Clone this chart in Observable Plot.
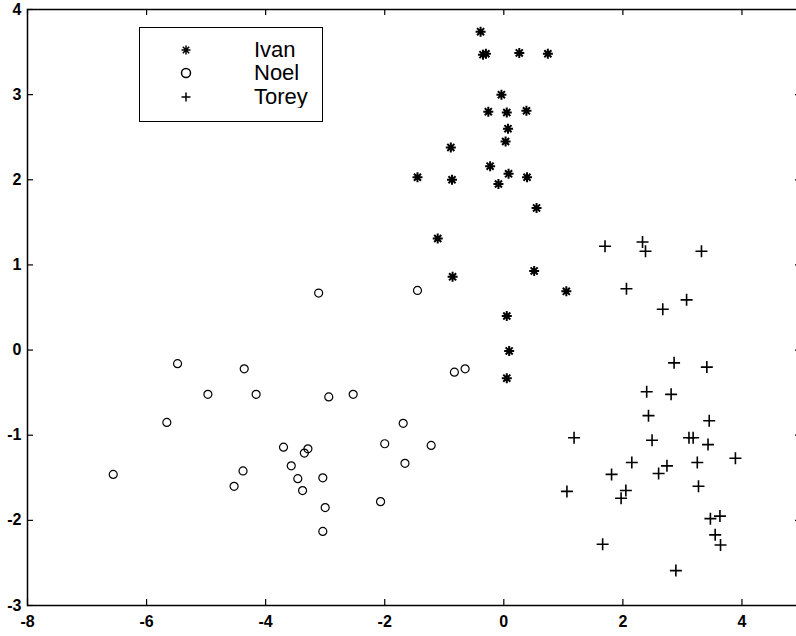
<!DOCTYPE html>
<html>
<head>
<meta charset="utf-8">
<script src="https://cdn.jsdelivr.net/npm/d3@7"></script>
<script src="https://cdn.jsdelivr.net/npm/@observablehq/plot@0.6"></script>
<style>
  html, body { margin: 0; padding: 0; background: #fff; overflow: hidden; }
  #wrap { position: relative; width: 796px; height: 636px; }
  #legend {
    position: absolute; left: 139px; top: 27px; width: 184px; height: 95px;
    box-sizing: border-box; border: 1.5px solid #000; background: #fff;
    padding: 9.75px 0 0 38px;
  }
  .lg-swatches { font-family: "Liberation Sans", Arial, Helvetica, sans-serif; font-size: 22px; margin: 0; color: #000; }
  .lg-swatch { height: 23.5px; padding-bottom: 0 !important; }
  .lg-swatch > svg { margin-right: 60px !important; }
  .lg-swatch-label { line-height: 23.5px; }
</style>
</head>
<body>
<div id="wrap"></div>
<script>
// ---- data ----
const seriesNames = ["Ivan", "Noel", "Torey"];

const ivanX = [-0.39, -0.35, -0.30, 0.26, 0.74, -0.04, -0.26, 0.05, 0.38, 0.07, 0.03, -0.89, -0.23,
               -1.45, -0.87, 0.08, -0.09, 0.39, 0.55, -1.11, 0.51, -0.86, 1.05, 0.05, 0.09, 0.05];
const ivanY = [3.74, 3.47, 3.48, 3.49, 3.48, 3.00, 2.80, 2.79, 2.81, 2.60, 2.45, 2.38, 2.16,
               2.03, 2.00, 2.07, 1.95, 2.03, 1.67, 1.31, 0.93, 0.86, 0.69, 0.40, -0.01, -0.33];

const noelX = [-3.11, -5.48, -4.36, -4.97, -4.16, -2.94, -2.53, -5.66, -3.70, -3.29, -3.35, -2.00, -6.56, -4.38,
               -3.57, -3.46, -3.04, -4.53, -3.38, -2.07, -3.00, -3.04, -1.45, -0.83, -0.65, -1.69, -1.22, -1.66];
const noelY = [0.67, -0.16, -0.22, -0.52, -0.52, -0.55, -0.52, -0.85, -1.14, -1.16, -1.21, -1.10, -1.46, -1.42,
               -1.36, -1.51, -1.50, -1.60, -1.65, -1.78, -1.85, -2.13, 0.70, -0.26, -0.22, -0.86, -1.12, -1.33];

const toreyX = [1.70, 2.33, 2.38, 3.32, 2.06, 3.07, 2.67, 2.86, 3.41, 2.40, 2.81, 2.43, 3.45, 1.18, 2.49, 3.11, 3.18,
                3.43, 3.89, 2.15, 3.25, 1.81, 2.60, 2.74, 1.06, 2.05, 1.97, 3.27, 3.47, 3.63, 3.55, 3.64, 1.66, 2.89];
const toreyY = [1.22, 1.27, 1.16, 1.16, 0.72, 0.59, 0.48, -0.15, -0.20, -0.49, -0.52, -0.77, -0.83, -1.03, -1.06, -1.03, -1.03,
                -1.11, -1.27, -1.32, -1.32, -1.46, -1.45, -1.36, -1.66, -1.65, -1.74, -1.60, -1.98, -1.95, -2.17, -2.29, -2.28, -2.59];

const xTicks = [-8, -6, -4, -2, 0, 2, 4];
const yTicks = [-3, -2, -1, 0, 1, 2, 3, 4];

// ---- MATLAB-like marker shapes ----
const asterisk8 = {
  draw(ctx, size) {
    const r = Math.sqrt(size / Math.PI), d = r * Math.SQRT1_2;
    ctx.moveTo(-r, 0); ctx.lineTo(r, 0);
    ctx.moveTo(0, -r); ctx.lineTo(0, r);
    ctx.moveTo(-d, -d); ctx.lineTo(d, d);
    ctx.moveTo(-d, d); ctx.lineTo(d, -d);
  }
};
const ringSym = {
  draw(ctx, size) {
    const r = Math.sqrt(size / Math.PI);
    ctx.moveTo(r, 0); ctx.arc(0, 0, r, 0, 2 * Math.PI);
  }
};
const plusSym = {
  draw(ctx, size) {
    const r = Math.sqrt(size / Math.PI);
    ctx.moveTo(-r, 0); ctx.lineTo(r, 0);
    ctx.moveTo(0, -r); ctx.lineTo(0, r);
  }
};

// ---- layout ----
const W = 796, H = 636;
const mL = 27, mR = -5, mT = 9, mB = 31;
const plotW = W - mL - mR, plotH = H - mT - mB;
const tickLen = 6;

const idx = (a) => a.map((_, i) => i);

const chart = Plot.plot({
  width: W, height: H,
  marginLeft: mL, marginRight: mR, marginTop: mT, marginBottom: mB,
  x: {domain: [-8, 5], label: null},
  y: {domain: [-3, 4], label: null},
  style: {background: "white", fontFamily: "'Liberation Sans', Arial, Helvetica, sans-serif", color: "black"},
  marks: [
    Plot.frame({stroke: "black", strokeWidth: 1.5}),
    // inward ticks on all four sides
    Plot.tickX(xTicks, {x: d => d, insetTop: plotH - tickLen, stroke: "black", strokeWidth: 1.2}),
    Plot.tickX(xTicks, {x: d => d, insetBottom: plotH - tickLen, stroke: "black", strokeWidth: 1.2}),
    Plot.tickY(yTicks, {y: d => d, insetRight: plotW - tickLen, stroke: "black", strokeWidth: 1.2}),
    Plot.tickY(yTicks, {y: d => d, insetLeft: plotW - tickLen, stroke: "black", strokeWidth: 1.2}),
    Plot.axisX(xTicks, {tickSize: 0, tickPadding: 10, fontSize: 16, fontWeight: "bold", tickFormat: d => String(d), label: null}),
    Plot.axisY(yTicks, {tickSize: 0, tickPadding: 6, fontSize: 16, fontWeight: "bold", tickFormat: d => String(d), label: null}),
    Plot.dot(idx(noelX), {x: noelX, y: noelY, symbol: ringSym, r: 4, stroke: "black", strokeWidth: 1.2, fill: "none"}),
    Plot.dot(idx(toreyX), {x: toreyX, y: toreyY, symbol: plusSym, r: 6, stroke: "black", strokeWidth: 1.6, fill: "none"}),
    Plot.dot(idx(ivanX), {x: ivanX, y: ivanY, symbol: asterisk8, r: 5, stroke: "black", strokeWidth: 2, fill: "none"})
  ]
});

const wrap = document.getElementById("wrap");
wrap.appendChild(chart);

const legendBox = document.createElement("div");
legendBox.id = "legend";
const legend = Plot.legend({
  symbol: {domain: seriesNames, range: [asterisk8, ringSym, plusSym]},
  legend: "symbol",
  columns: 1,
  className: "lg",
  swatchSize: 16,
  r: 4.5,
  stroke: "black",
  fill: "none",
  strokeWidth: 1.5
});
legendBox.appendChild(legend);
wrap.appendChild(legendBox);
</script>
</body>
</html>
